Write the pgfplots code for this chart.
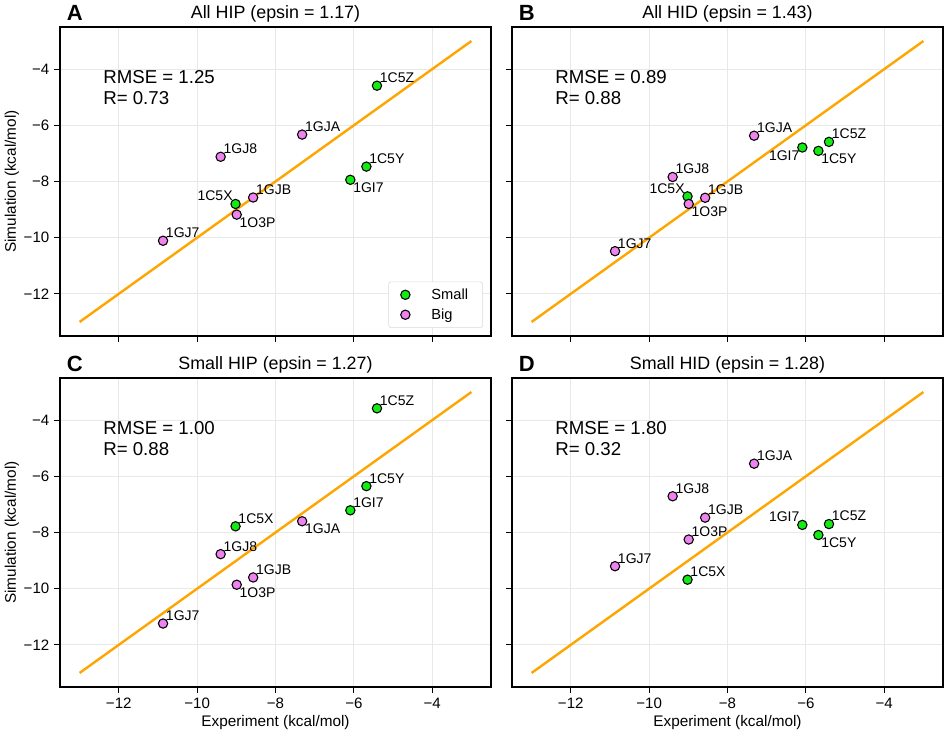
\documentclass[border=0pt]{standalone}
\usepackage{fontspec}
\setmainfont{Liberation Sans}
\usepackage{pgfplots}
\pgfplotsset{compat=1.18}

\definecolor{smallc}{RGB}{20,235,20}
\definecolor{bigc}{RGB}{238,130,238}
\definecolor{fitc}{RGB}{255,165,0}

\pgfplotsset{
  panel/.style={
    scale only axis, width=323.25pt, height=231.75pt,
    xmin=-13.5, xmax=-2.5, ymin=-13.5, ymax=-2.5,
    xtick={-12,-10,-8,-6,-4}, ytick={-12,-10,-8,-6,-4},
    xticklabels={−12,−10,−8,−6,−4},
    yticklabels={−12,−10,−8,−6,−4},
    tick pos=left, tick align=outside, major tick length=4.5pt,
    tick style={black, line width=0.8pt},
    axis line style={line width=0.9pt},
    grid=major, major grid style={black!9, line width=0.6pt},
    ticklabel style={font=\fontsize{11.3}{13}\selectfont},
    label style={font=\fontsize{11.5}{13}\selectfont},
    xlabel style={at={(axis description cs:0.5,-0.1165)}, anchor=center},
    ylabel style={at={(axis description cs:-0.1114,0.5)}, anchor=center},
    clip=false,
    anchor=south west,
  },
  smallm/.style={mark=*, mark size=3.5pt, mark options={fill=smallc, draw=black, line width=0.8pt}},
  bigm/.style={mark=*, mark size=3.5pt, mark options={fill=bigc, draw=black, line width=0.8pt}},
  pts/.style={
    only marks, forget plot, point meta=explicit symbolic, nodes near coords,
    every node near coord/.append style={inner sep=0pt, outer sep=2.2pt,
      text=black, font=\fontsize{10.5}{12}\selectfont},
  },
}

% #1 marker style, #2 label anchor, #3 (experiment, simulation) [name]
\newcommand\grp[3]{\addplot[pts, #1, every node near coord/.append style={anchor=#2}] coordinates {#3};}
\newcommand\fit{\addplot[fitc, line width=1.8pt, forget plot] coordinates {(-13,-13) (-3,-3)};}
\newcommand\head[2]{%
  \node[anchor=base west, inner sep=0pt, xshift=5pt, yshift=5.2pt,
    font=\fontsize{16.5}{16.5}\selectfont\bfseries] at (rel axis cs:0,1) {#1};
  \node[anchor=base, inner sep=0pt, yshift=6.5pt,
    font=\fontsize{13.4}{15}\selectfont] at (rel axis cs:0.5,1) {#2};}
\newcommand\stats[2]{\node[anchor=north west, inner sep=0pt, align=left,
  font=\fontsize{14}{16.3}\selectfont] at (rel axis cs:0.0998,0.861) {RMSE = #1\\R= #2};}

\begin{document}
\begin{tikzpicture}
\path[use as bounding box] (0,0) rectangle (710.25pt,551.25pt);

\begin{axis}[panel, at={(45pt,299.25pt)},
  xticklabels={}, ylabel={Simulation (kcal/mol)},
  legend style={at={(0.9814,0.0259)}, anchor=south east, draw=black!15,
    rounded corners=2pt, font=\fontsize{11}{13}\selectfont,
    inner xsep=9pt, inner ysep=3pt, column sep=14pt, row sep=1.5pt},
  legend cell align=left]
\fit
\grp{smallm}{south west}{(-5.41,-4.59) [1C5Z] (-5.68,-7.47) [1C5Y]}
\grp{smallm}{north west}{(-6.09,-7.94) [1GI7]}
\grp{smallm}{south east}{(-9.02,-8.80) [1C5X]}
\grp{bigm}{south west}{(-7.32,-6.33) [1GJA] (-9.40,-7.12) [1GJ8] (-8.57,-8.57) [1GJB] (-10.87,-10.11) [1GJ7]}
\grp{bigm}{north west}{(-8.99,-9.18) [1O3P]}
\addlegendimage{only marks, smallm}
\addlegendentry{Small}
\addlegendimage{only marks, bigm}
\addlegendentry{Big}
\head{A}{All HIP (epsin = 1.17)}
\stats{1.25}{0.73}
\end{axis}

\begin{axis}[panel, at={(384pt,299.25pt)},
  xticklabels={}, yticklabels={}]
\fit
\grp{smallm}{south west}{(-5.41,-6.59) [1C5Z]}
\grp{smallm}{north west}{(-5.68,-6.91) [1C5Y]}
\grp{smallm}{north east}{(-6.09,-6.79) [1GI7]}
\grp{smallm}{south east}{(-9.02,-8.53) [1C5X]}
\grp{bigm}{south west}{(-7.32,-6.37) [1GJA] (-9.40,-7.84) [1GJ8] (-8.57,-8.58) [1GJB] (-10.87,-10.48) [1GJ7]}
\grp{bigm}{north west}{(-8.99,-8.80) [1O3P]}
\head{B}{All HID (epsin = 1.43)}
\stats{0.89}{0.88}
\end{axis}

\begin{axis}[panel, at={(45pt,36pt)},
  xlabel={Experiment (kcal/mol)}, ylabel={Simulation (kcal/mol)}]
\fit
\grp{smallm}{south west}{(-5.41,-3.58) [1C5Z] (-5.68,-6.35) [1C5Y] (-6.09,-7.21) [1GI7] (-9.02,-7.78) [1C5X]}
\grp{bigm}{south west}{(-9.40,-8.77) [1GJ8] (-8.57,-9.60) [1GJB] (-10.87,-11.24) [1GJ7]}
\grp{bigm}{north west}{(-7.32,-7.60) [1GJA] (-8.99,-9.86) [1O3P]}
\head{C}{Small HIP (epsin = 1.27)}
\stats{1.00}{0.88}
\end{axis}

\begin{axis}[panel, at={(384pt,36pt)},
  xlabel={Experiment (kcal/mol)}, yticklabels={}]
\fit
\grp{smallm}{south west}{(-5.41,-7.70) [1C5Z] (-9.02,-9.68) [1C5X]}
\grp{smallm}{north west}{(-5.68,-8.09) [1C5Y]}
\grp{smallm}{south east}{(-6.09,-7.73) [1GI7]}
\grp{bigm}{south west}{(-7.32,-5.55) [1GJA] (-9.40,-6.71) [1GJ8] (-8.57,-7.47) [1GJB] (-8.99,-8.25) [1O3P] (-10.87,-9.20) [1GJ7]}
\head{D}{Small HID (epsin = 1.28)}
\stats{1.80}{0.32}
\end{axis}
\end{tikzpicture}
\end{document}
